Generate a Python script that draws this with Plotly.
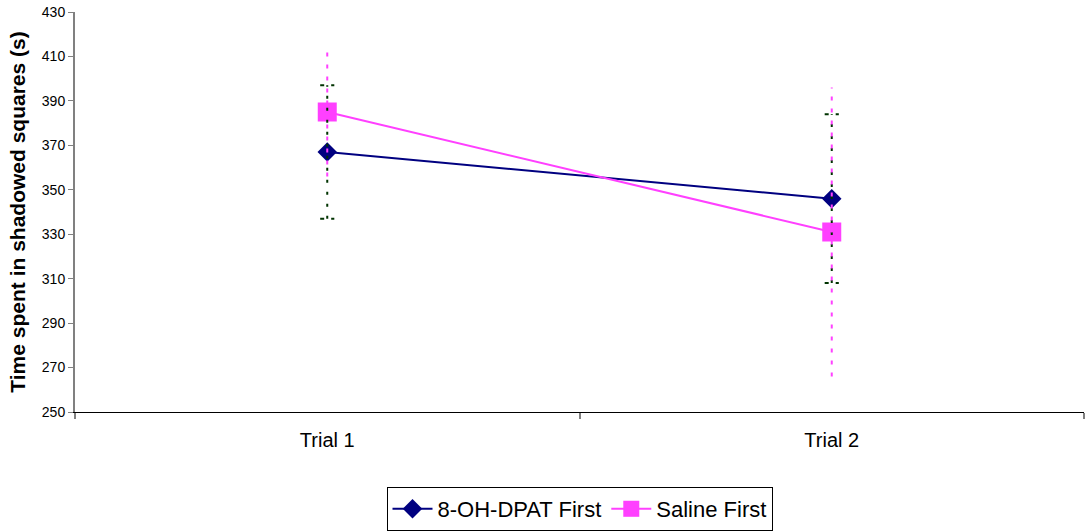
import plotly.graph_objects as go

categories = ["Trial 1", "Trial 2"]
dpat_mean = [367, 346]
dpat_err = [30, 38]
saline_mean = [385, 331]
saline_err = [29, 65]

NAVY = "#000080"
PINK = "#FF40FF"
GREEN = "#003300"

pos = list(range(len(categories)))
fig = go.Figure()

# error bars on an overlaid numeric axis
def err_traces(means, errs, color, dash, cap):
    for i, (m, e) in enumerate(zip(means, errs)):
        fig.add_trace(go.Scatter(x=[pos[i], pos[i]], y=[m - e, m + e], mode="lines",
                                 line=dict(color=color, width=2, dash=dash),
                                 xaxis="x2", showlegend=False, hoverinfo="skip"))
        if cap:
            for yv in (m - e, m + e):
                fig.add_trace(go.Scatter(x=[pos[i] - 0.014, pos[i] + 0.014], y=[yv, yv], mode="lines",
                                         line=dict(color=color, width=2, dash="4px,7px"),
                                         xaxis="x2", showlegend=False, hoverinfo="skip"))

err_traces(dpat_mean, dpat_err, GREEN, "3px,9px", True)
err_traces(saline_mean, saline_err, PINK, "4px,8px", False)

fig.add_trace(go.Scatter(x=categories, y=dpat_mean, mode="lines+markers", name="8-OH-DPAT First",
                         line=dict(color=NAVY, width=2),
                         marker=dict(symbol="diamond", size=15, color=NAVY)))
fig.add_trace(go.Scatter(x=categories, y=saline_mean, mode="lines+markers", name="Saline First",
                         line=dict(color=PINK, width=2),
                         marker=dict(symbol="square", size=19, color=PINK)))

fig.update_layout(
    width=1085, height=531,
    margin=dict(l=75, r=1, t=12, b=118),
    paper_bgcolor="white", plot_bgcolor="white",
    font=dict(family="Liberation Sans, Arial, sans-serif", color="black"),
    xaxis=dict(type="category", tickson="boundaries", ticks="outside", ticklen=6,
               tickcolor="#808080", tickwidth=2, showline=True, linecolor="black", linewidth=1,
               showgrid=False, tickfont=dict(size=20), range=[-0.5, 1.5],
               ticklabelstandoff=10),
    xaxis2=dict(overlaying="x", range=[-0.5, 1.5], visible=False),
    yaxis=dict(range=[250, 430], dtick=20, tick0=250, ticks="outside", ticklen=5,
               tickcolor="#808080", showline=True, linecolor="#808080", linewidth=2,
               showgrid=False, zeroline=False, tickfont=dict(size=14), automargin=False,
               title=dict(text="<b>Time spent in shadowed squares (s)</b>", font=dict(size=21), standoff=10)),
    legend=dict(orientation="h", x=0.5, xanchor="center", y=-0.185, yanchor="top",
                bordercolor="black", borderwidth=1, font=dict(size=22),
                itemwidth=40, tracegroupgap=0),
)

fig.write_html("out.html", post_script="document.body.style.margin='0';",
               config={"displayModeBar": False})
